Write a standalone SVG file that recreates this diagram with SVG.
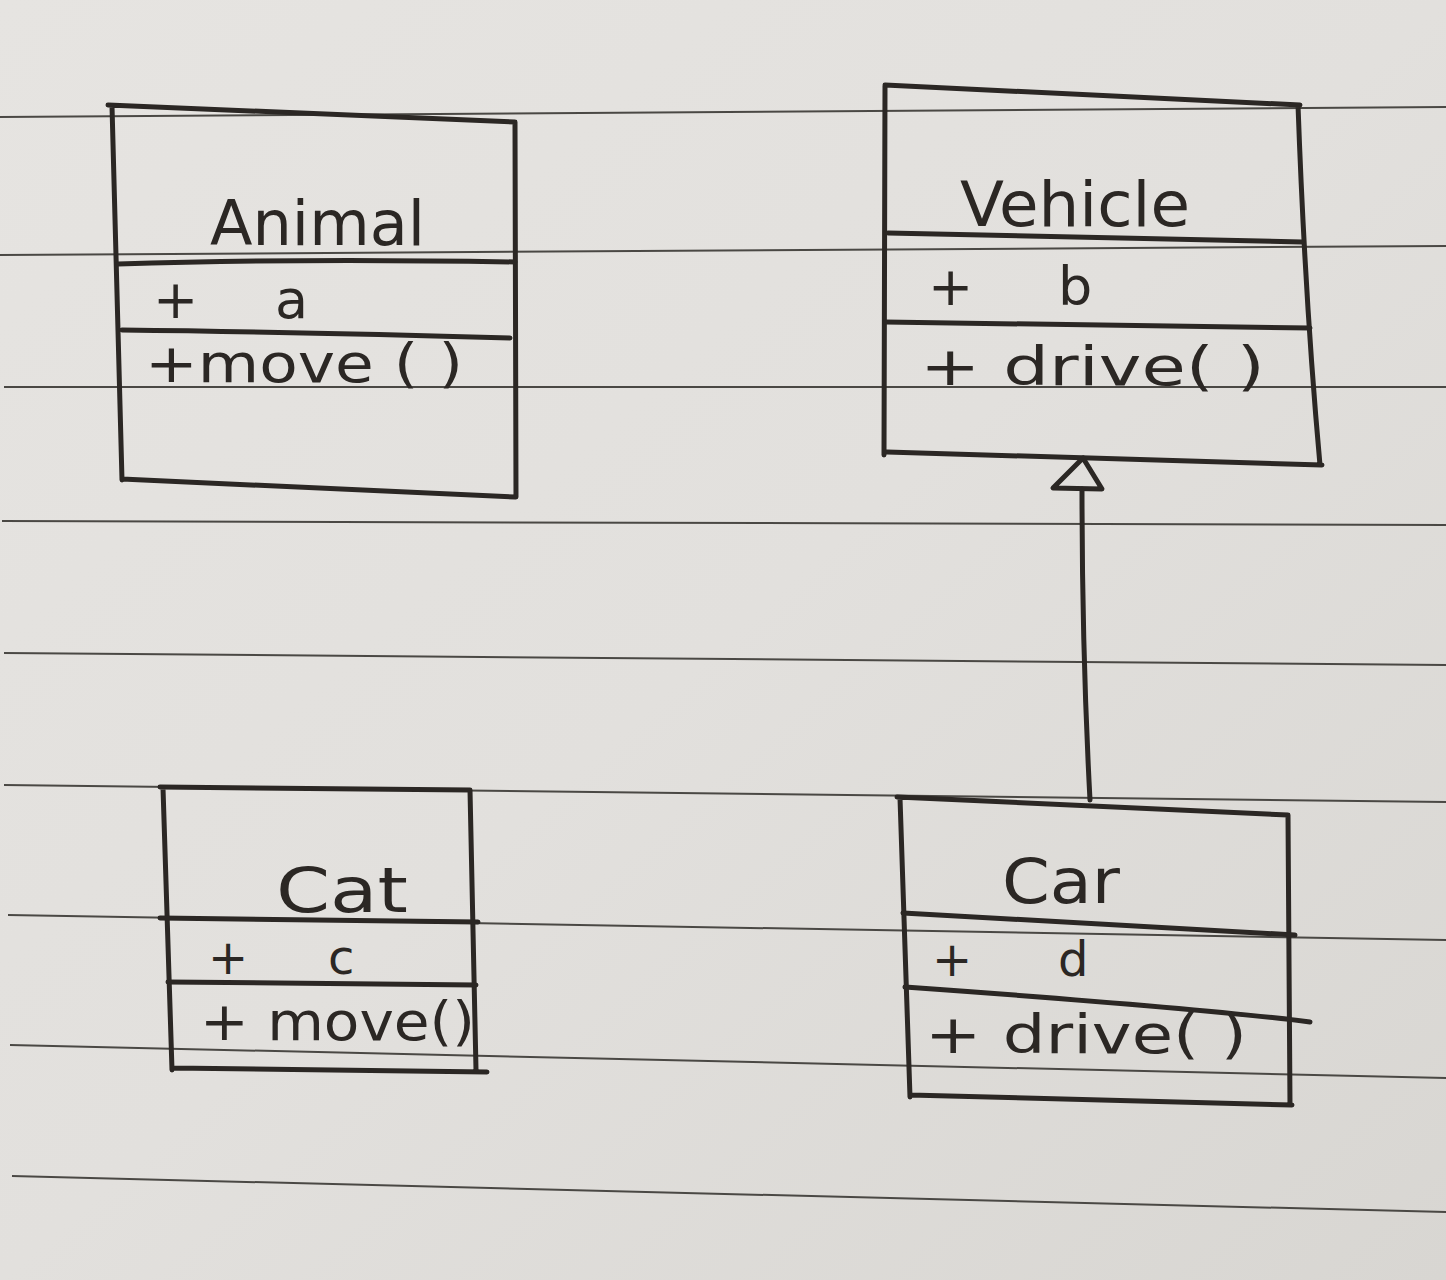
<svg xmlns="http://www.w3.org/2000/svg" width="1446" height="1280" viewBox="0 0 1446 1280">
<defs>
<linearGradient id="paper" x1="0" y1="0" x2="1" y2="1">
<stop offset="0" stop-color="#e6e4e1"/>
<stop offset="0.5" stop-color="#e2e0dd"/>
<stop offset="1" stop-color="#d8d6d2"/>
</linearGradient>
<style>
.rule{stroke:#4a4844;stroke-width:2;fill:none}
.ink{stroke:#2b2724;stroke-width:5;fill:none;stroke-linecap:round;stroke-linejoin:round}
.t{font-family:"DejaVu Sans","Liberation Sans",sans-serif;fill:#2b2724}
.name{font-size:62px}
.mem{font-size:54px}
.small{font-size:48px}
</style>
</defs>
<rect width="1446" height="1280" fill="url(#paper)"/>
<g id="paper-lines">
<line class="rule" x1="0" y1="117" x2="1446" y2="107"/>
<line class="rule" x1="0" y1="255" x2="1446" y2="246"/>
<line class="rule" x1="4" y1="387" x2="1446" y2="387"/>
<line class="rule" x1="2" y1="521" x2="1446" y2="525"/>
<line class="rule" x1="4" y1="653" x2="1446" y2="665"/>
<line class="rule" x1="4" y1="785" x2="1446" y2="802"/>
<line class="rule" x1="8" y1="915" x2="1446" y2="940"/>
<line class="rule" x1="10" y1="1045" x2="1446" y2="1078"/>
<line class="rule" x1="12" y1="1176" x2="1446" y2="1212"/>
</g>
<g id="Animal">
<path class="ink" d="M108 105 L515 122 M112 106 Q118 300 122 480 M515 122 L516 497 M122 479 L515 497"/>
<path class="ink" d="M118 264 Q300 258 515 262 M122 330 Q300 332 510 338"/>
<text class="t name" x="210" y="245" textLength="215" lengthAdjust="spacingAndGlyphs">Animal</text>
<text class="t mem" x="153" y="318">+</text>
<text class="t mem" x="275" y="318">a</text>
<text class="t mem" x="145" y="382" textLength="318" lengthAdjust="spacingAndGlyphs">+move ( )</text>
</g>
<g id="Vehicle">
<path class="ink" d="M885 85 L1300 105 M885 86 L884 455 M1298 105 Q1305 300 1320 465 M887 452 L1322 465"/>
<path class="ink" d="M888 233 L1302 242 M885 322 L1310 328"/>
<text class="t name" x="960" y="226" textLength="230" lengthAdjust="spacingAndGlyphs">Vehicle</text>
<text class="t mem" x="928" y="305">+</text>
<text class="t mem" x="1058" y="305">b</text>
<text class="t mem" x="920" y="385" textLength="345" lengthAdjust="spacingAndGlyphs">+ drive( )</text>
</g>
<g id="Cat">
<path class="ink" d="M160 787 L470 790 M163 788 L172 1070 M470 790 L476 1070 M172 1068 L487 1072"/>
<path class="ink" d="M160 918 L478 922 M168 982 L476 985"/>
<text class="t name" x="276" y="912" textLength="132" lengthAdjust="spacingAndGlyphs">Cat</text>
<text class="t small" x="208" y="974">+</text>
<text class="t small" x="328" y="974">c</text>
<text class="t mem" x="200" y="1040" textLength="275" lengthAdjust="spacingAndGlyphs">+ move()</text>
</g>
<g id="Car">
<path class="ink" d="M897 797 L1288 815 M900 798 L910 1097 M1288 815 L1290 1105 M910 1095 L1292 1105"/>
<path class="ink" d="M903 913 L1295 935 M905 987 Q1200 1008 1310 1022"/>
<text class="t name" x="1002" y="903" textLength="118" lengthAdjust="spacingAndGlyphs">Car</text>
<text class="t small" x="932" y="976">+</text>
<text class="t small" x="1058" y="976">d</text>
<text class="t mem" x="925" y="1053" textLength="322" lengthAdjust="spacingAndGlyphs">+ drive( )</text>
</g>
<g id="connectors">
<path class="ink" d="M1090 800 Q1082 650 1082 489"/>
<path class="ink" d="M1083 458 L1053 488 L1102 489 Z"/>
</g>
</svg>
